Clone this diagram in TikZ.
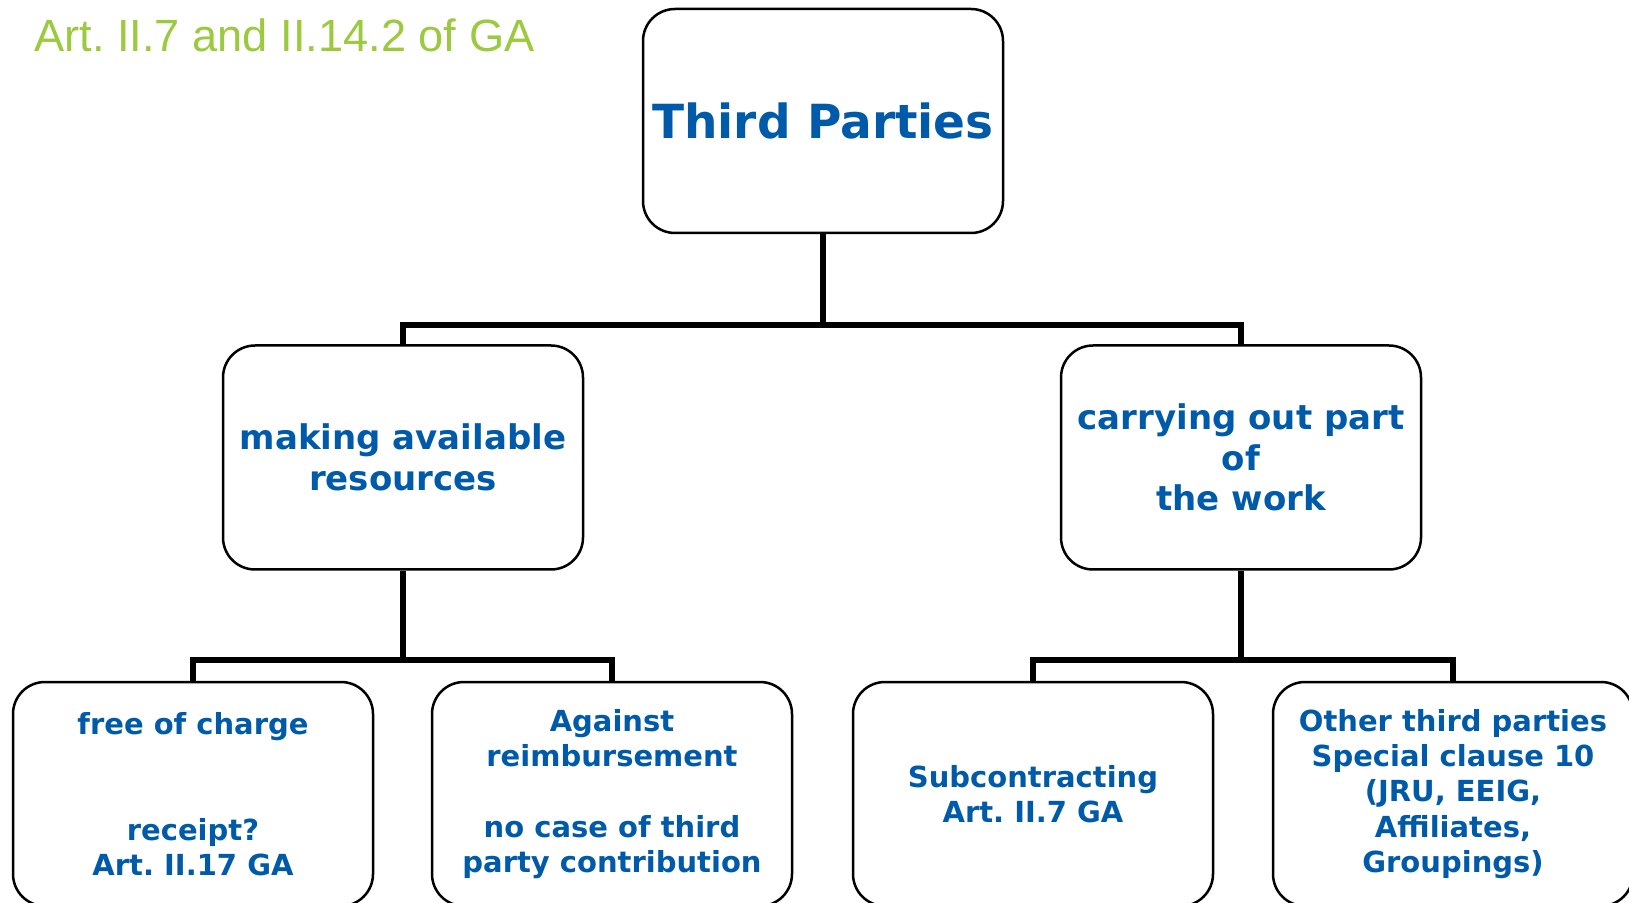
\documentclass[tikz,border=0pt]{standalone}
\usepackage{fontspec}
\setmainfont{DejaVu Sans}
\newfontfamily\greenfont{Liberation Sans}
\frenchspacing
\definecolor{tpblue}{RGB}{0,90,170}
\definecolor{tpgreen}{RGB}{155,202,62}
\tikzset{
  box/.style={draw=black, line width=1.25pt, rounded corners=16pt,
    minimum width=180pt, minimum height=112pt, inner sep=2pt,
    align=center, text=tpblue, font=\bfseries},
  link/.style={draw=black, line width=2.6pt, line join=miter},
  topfont/.style={font=\bfseries\fontsize{23.5}{28}\selectfont},
  midfont/.style={font=\bfseries\fontsize{17}{20.25}\selectfont},
  lowfont/.style={font=\bfseries\fontsize{14.5}{17.6}\selectfont}
}

\begin{document}
\begin{tikzpicture}[x=0.5pt, y=-0.5pt]
\clip (0,0) rectangle (1629,903);
\fill[white] (0,0) rectangle (1629,903);

% heading
\node[anchor=base west, inner sep=0pt, text=tpgreen,
  font=\greenfont\fontsize{22.6}{27}\selectfont] (heading) at (34,52)
  {Art. II.7 and II.14.2 of GA};

% boxes
\node[box, topfont] (third) at (823,121) {Third Parties};
\node[box, midfont] (avail) at (403,457.5) {making available\\resources};
\node[box, midfont] (work) at (1241,457.5) {carrying out part\\of\\the work};
\node[box, lowfont] (free) at (193,794)
  {free of charge\\~\\~\\receipt?\\Art. II.17 GA};
\node[box, lowfont] (reimb) at (612,794)
  {Against\\reimbursement\\~\\no case of third\\party contribution};
\node[box, lowfont] (sub) at (1033,794) {Subcontracting\\Art. II.7 GA};
\node[box, lowfont] (other) at (1453,794)
  {Other third parties\\Special clause 10\\(JRU, EEIG,\\Affiliates,\\Groupings)};

% connectors
\coordinate (j1) at (823,325);
\coordinate (j2) at (403,660);
\coordinate (j3) at (1241,660);
\draw[link] (third.south) -- (j1);
\draw[link] (avail.north) |- (j1) -| (work.north);
\draw[link] (avail.south) -- (j2);
\draw[link] (free.north) |- (j2) -| (reimb.north);
\draw[link] (work.south) -- (j3);
\draw[link] (sub.north) |- (j3) -| (other.north);
\end{tikzpicture}
\end{document}
